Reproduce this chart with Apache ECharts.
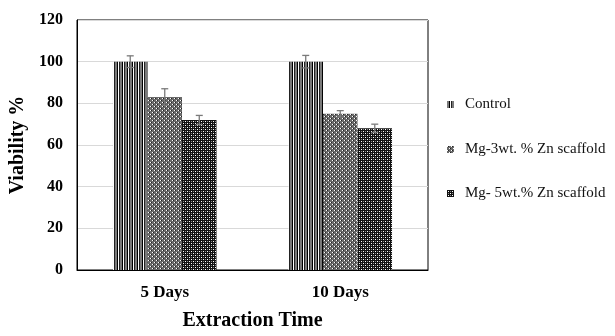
<!DOCTYPE html>
<html><head><meta charset="utf-8">
<script src="https://cdn.jsdelivr.net/npm/echarts@6/dist/echarts.min.js"></script>
<style>html,body{margin:0;padding:0;background:#fff}#c{width:615px;height:336px}</style>
</head><body><div id="c"></div>
<script>
var categories = ['5 Days', '10 Days'];
var seriesNames = ['Control', 'Mg-3wt. % Zn scaffold', 'Mg- 5wt.% Zn scaffold'];
var controlVals = [100, 100];
var mg3Vals = [83, 75];
var mg5Vals = [72, 68];
var controlErr = [2.8, 3];
var mg3Err = [4, 1.5];
var mg5Err = [2.2, 2];
var yTicks = [0, 20, 40, 60, 80, 100, 120];

function makePattern(w, h, fn) {
  var c = document.createElement('canvas');
  c.width = w; c.height = h;
  var ctx = c.getContext('2d');
  fn(ctx);
  return { image: c, repeat: 'repeat' };
}
var pControl = makePattern(5, 2, function (ctx) {
  ctx.fillStyle = '#fff'; ctx.fillRect(0, 0, 5, 2);
  ctx.fillStyle = '#7a7a7a'; ctx.fillRect(0, 0, 2, 2);
  ctx.fillStyle = '#000'; ctx.fillRect(2, 0, 1, 2);
  ctx.fillStyle = '#fff'; ctx.fillRect(3, 0, 1, 2);
  ctx.fillStyle = '#222'; ctx.fillRect(4, 0, 1, 2);
});
var pMg3 = makePattern(4, 4, function (ctx) {
  ctx.fillStyle = '#6a6a6a'; ctx.fillRect(0, 0, 4, 4);
  ctx.fillStyle = '#fff'; ctx.fillRect(0, 0, 1, 1); ctx.fillRect(2, 2, 1, 1);
  ctx.fillStyle = '#222'; ctx.fillRect(1, 0, 1, 1); ctx.fillRect(3, 2, 1, 1);
});
var pMg5 = makePattern(4, 4, function (ctx) {
  ctx.fillStyle = '#111'; ctx.fillRect(0, 0, 4, 4);
  ctx.fillStyle = '#fff'; ctx.fillRect(1, 1, 1, 1); ctx.fillRect(3, 3, 1, 1);
  ctx.fillStyle = '#888'; ctx.fillRect(3, 1, 1, 1); ctx.fillRect(1, 3, 1, 1);
});

var vals = [controlVals, mg3Vals, mg5Vals];
var errs = [controlErr, mg3Err, mg5Err];
var patterns = [pControl, pMg3, pMg5];

var series = [];
for (var s = 0; s < 3; s++) {
  series.push({
    name: seriesNames[s], type: 'bar', data: vals[s],
    barGap: '0%', barCategoryGap: '41%',
    itemStyle: { color: patterns[s] }
  });
}
var errData = [];
for (var s2 = 0; s2 < 3; s2++) {
  for (var i = 0; i < categories.length; i++) {
    errData.push([i, vals[s2][i] - errs[s2][i], vals[s2][i] + errs[s2][i], s2]);
  }
}
series.push({
  type: 'custom', name: 'err', silent: true, z: 10,
  data: errData,
  encode: { x: 0, y: [1, 2] },
  renderItem: function (params, api) {
    var ci = api.value(0), lo = api.value(1), hi = api.value(2), si = api.value(3);
    var bw = api.size([1, 0])[0];
    var barW = bw * (1 - 0.41) / 3;
    var cx = api.coord([ci, 0])[0] - 1.5 * barW + (si + 0.5) * barW;
    var yl = api.coord([ci, lo])[1], yh = api.coord([ci, hi])[1];
    var st = { stroke: '#7a7a7a', lineWidth: 1.3 };
    return { type: 'group', children: [
      { type: 'line', shape: { x1: cx, y1: yl, x2: cx, y2: yh }, style: st },
      { type: 'line', shape: { x1: cx - 3.5, y1: yh, x2: cx + 3.5, y2: yh }, style: st },
      { type: 'line', shape: { x1: cx - 3.5, y1: yl, x2: cx + 3.5, y2: yl }, style: st }
    ]};
  }
});

var legendTops = [92, 137, 181];
var legends = seriesNames.map(function (n, k) {
  return {
    data: [n], orient: 'vertical', left: 442, top: legendTops[k],
    itemWidth: 7, itemHeight: 7, icon: 'rect',
    textStyle: { fontFamily: 'Liberation Serif', fontSize: 15, color: '#111', padding: [0, 0, 0, 6] }
  };
});

var chart = echarts.init(document.getElementById('c'));
chart.setOption({
  animation: false,
  grid: { left: 77, right: 187, top: 20, bottom: 60, show: true, borderColor: '#000', borderWidth: 1, backgroundColor: 'transparent' },
  legend: legends,
  xAxis: {
    type: 'category', data: categories,
    axisTick: { show: false }, axisLine: { lineStyle: { color: '#000' } },
    axisLabel: { fontFamily: 'Liberation Serif', fontWeight: 'bold', fontSize: 17, color: '#000', margin: 14 },
    name: 'Extraction Time', nameLocation: 'middle', nameGap: 41,
    nameTextStyle: { fontFamily: 'Liberation Serif', fontWeight: 'bold', fontSize: 20, color: '#000' }
  },
  yAxis: {
    type: 'value', min: yTicks[0], max: yTicks[yTicks.length - 1], interval: 20,
    axisLine: { show: true, lineStyle: { color: '#000' } }, axisTick: { show: false },
    splitLine: { lineStyle: { color: '#d9d9d9', width: 1 } },
    axisLabel: { fontFamily: 'Liberation Serif', fontWeight: 'bold', fontSize: 16, color: '#000', margin: 14 },
    name: 'Viability %', nameLocation: 'middle', nameGap: 45,
    nameTextStyle: { fontFamily: 'Liberation Serif', fontWeight: 'bold', fontSize: 20, color: '#000' }
  },
  series: series
});
</script></body></html>
